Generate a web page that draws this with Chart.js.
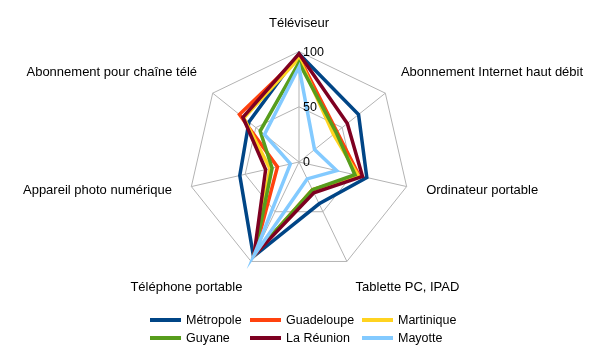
<!DOCTYPE html>
<html><head><meta charset="utf-8">
<script src="https://cdn.jsdelivr.net/npm/chart.js@4/dist/chart.umd.min.js"></script>
<style>
html,body{margin:0;padding:0;background:#fff;}
#wrap{position:relative;width:611px;height:357px;}
#legend{position:absolute;left:0;top:0;width:611px;height:357px;pointer-events:none;font-family:"Liberation Sans",Arial,sans-serif;font-size:12.5px;color:#000;}
.item{position:absolute;display:flex;align-items:center;height:16px;white-space:nowrap;}
.swatch{width:31px;height:4px;margin-right:5px;}
</style></head><body>
<div id="wrap"><canvas id="c" width="611" height="357"></canvas><div id="legend"></div></div>
<script>
const categories = ['Téléviseur', 'Abonnement Internet haut débit', 'Ordinateur portable', 'Tablette PC, IPAD', 'Téléphone portable', 'Appareil photo numérique', 'Abonnement pour chaîne télé'];
const tickValues = [0, 50, 100];
const seriesNames = ['Métropole', 'Guadeloupe', 'Martinique', 'Guyane', 'La Réunion', 'Mayotte'];
const metropole  = [98, 69, 63, 42, 95, 55, 58];
const guadeloupe = [95, 44, 56, 28, 94, 20, 69];
const martinique = [94, 40, 55, 28, 94, 27, 64];
const guyane     = [90, 43, 52, 28, 93, 25, 45];
const reunion    = [98, 56, 59, 31, 94, 31, 65];
const mayotte    = [86, 18, 35, 17, 94, 8, 40];
const seriesValues = [metropole, guadeloupe, martinique, guyane, reunion, mayotte];
const seriesColors = ['#004586', '#ff420e', '#ffd320', '#579d1c', '#7e0021', '#83caff'];

const FONT = '"Liberation Sans", Arial, sans-serif';

const tickLabelPlugin = {
  id: 'tickLabels',
  afterDatasetsDraw(chart) {
    const s = chart.scales.r, ctx = chart.ctx;
    ctx.save();
    ctx.font = '12.5px ' + FONT;
    ctx.fillStyle = '#000';
    ctx.textAlign = 'left';
    ctx.textBaseline = 'middle';
    s.ticks.forEach(t => {
      const d = s.getDistanceFromCenterForValue(t.value);
      ctx.fillText(String(t.value), s.xCenter + 4, s.yCenter - d + 1);
    });
    ctx.restore();
  }
};

const datasets = seriesNames.map((name, i) => ({
  label: name,
  data: seriesValues[i],
  borderColor: seriesColors[i],
  backgroundColor: seriesColors[i],
  borderWidth: 3.5,
  pointRadius: 0,
  fill: false,
  tension: 0,
  order: seriesNames.length - i
}));

new Chart(document.getElementById('c'), {
  type: 'radar',
  data: { labels: categories, datasets },
  options: {
    responsive: false,
    animation: false,
    layout: { padding: { top: 9, bottom: 56, left: 0, right: 8 } },
    plugins: { legend: { display: false }, tooltip: { enabled: false } },
    scales: {
      r: {
        min: 0, max: 100,
        afterBuildTicks: s => { s.ticks = tickValues.map(v => ({ value: v })); },
        ticks: { display: false },
        grid: { color: '#b3b3b3', lineWidth: 1 },
        angleLines: { color: '#b3b3b3', lineWidth: 1 },
        pointLabels: { font: { family: FONT, size: 13 }, color: '#000', padding: 20 },
        afterFit: scale => {
          const items = scale._pointLabelItems;
          if (items) {
            [2, 5].forEach(i => { if (items[i]) { items[i].y -= 8; items[i].top -= 8; items[i].bottom -= 8; } });
          }
        }
      }
    }
  },
  plugins: [tickLabelPlugin]
});

// legend (HTML), built from the series arrays
const legend = document.getElementById('legend');
const colX = [150, 250, 362];
const rowY = [312, 330];
seriesNames.forEach((name, i) => {
  const el = document.createElement('div');
  el.className = 'item';
  el.style.left = colX[i % 3] + 'px';
  el.style.top = rowY[Math.floor(i / 3)] + 'px';
  const sw = document.createElement('span');
  sw.className = 'swatch';
  sw.style.background = seriesColors[i];
  const tx = document.createElement('span');
  tx.textContent = name;
  el.appendChild(sw); el.appendChild(tx);
  legend.appendChild(el);
});
</script>
</body></html>
